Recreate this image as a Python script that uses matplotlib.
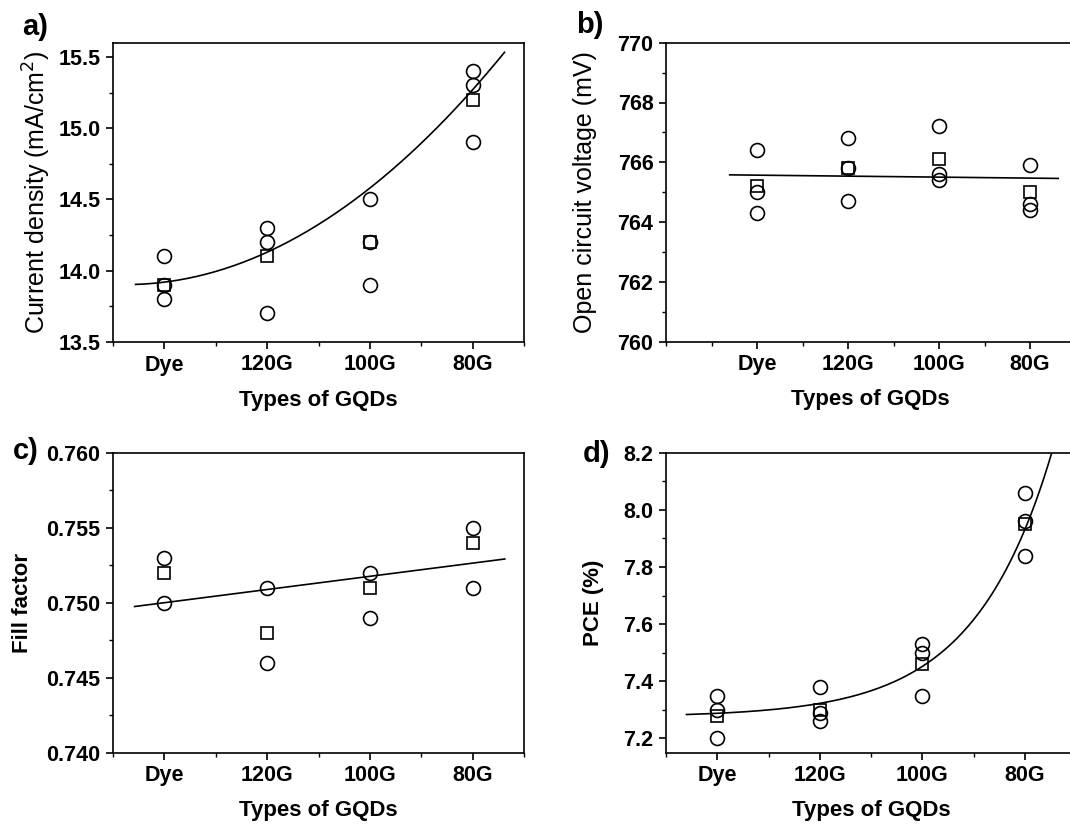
import numpy as np
import matplotlib
matplotlib.use("Agg")
import matplotlib.pyplot as plt
from matplotlib.ticker import MultipleLocator, FormatStrFormatter

plt.rcParams['font.family'] = ['Liberation Sans', 'DejaVu Sans']

categories = ['Dye', '120G', '100G', '80G']

# Panel a: current density (mA/cm2)
jsc_runs = [[14.1, 13.9, 13.8], [14.3, 14.2, 13.7], [14.5, 14.2, 13.9], [15.4, 15.3, 14.9]]
jsc_avg = [13.9, 14.1, 14.2, 15.2]
jsc_fit = [13.92, 0.09, 0.12]          # y = c0 + c1 (x-1) + c2 (x-1)^2

# Panel b: open circuit voltage (mV)
voc_runs = [[766.4, 765.0, 764.3], [766.8, 765.8, 764.7], [767.2, 765.6, 765.4], [765.9, 764.6, 764.4]]
voc_avg = [765.2, 765.8, 766.1, 765.0]
voc_fit = [765.57, -0.033]            # y = c0 + c1 (x-1)

# Panel c: fill factor
ff_runs = [[0.753, 0.750], [0.751, 0.746], [0.752, 0.749], [0.755, 0.751]]
ff_avg = [0.752, 0.748, 0.751, 0.754]
ff_fit = [0.7500, 0.00088]            # y = c0 + c1 (x-1)

# Panel d: PCE (%)
pce_runs = [[7.35, 7.30, 7.20], [7.38, 7.29, 7.26], [7.53, 7.50, 7.35], [8.06, 7.96, 7.84]]
pce_avg = [7.28, 7.30, 7.46, 7.95]
pce_fit = [7.275, 0.655, 1.31]        # y = y0 + A exp(k (x-4))

W, H = 1070, 825
fig = plt.figure(figsize=(W / 100, H / 100), dpi=100)

def frac(l, r, t, b):
    return [l / W, 1 - b / H, (r - l) / W, (b - t) / H]

ax_a = fig.add_axes(frac(113, 524, 43, 342))
ax_b = fig.add_axes(frac(666, 1075.5, 42.7, 341.7))
ax_c = fig.add_axes(frac(113, 524.3, 452.7, 752.7))
ax_d = fig.add_axes(frac(666, 1076, 452.7, 752.7))

xpos = np.arange(1, len(categories) + 1)

def draw(ax, runs, avg, fx, fy, xlim, ylim, ymaj, ymin, fmt, ylabel, ybold, ylx, xlx):
    for i, vals in enumerate(runs):
        ax.plot([xpos[i]] * len(vals), vals, linestyle='none', marker='o', ms=10,
                mfc='none', mec='black', mew=1.2, zorder=3)
    ax.plot(xpos, avg, linestyle='none', marker='s', ms=9, mfc='none', mec='black',
            mew=1.2, zorder=3)
    ax.plot(fx, fy, color='black', lw=1.2, zorder=2)
    ax.set_xlim(*xlim)
    ax.set_ylim(*ylim)
    ax.set_xticks(xpos)
    ax.set_xticklabels(categories)
    ax.xaxis.set_minor_locator(MultipleLocator(0.5))
    ax.yaxis.set_major_locator(MultipleLocator(ymaj))
    ax.yaxis.set_minor_locator(MultipleLocator(ymin))
    ax.yaxis.set_major_formatter(FormatStrFormatter(fmt))
    for s in ax.spines.values():
        s.set_linewidth(1.2)
    ax.tick_params(which='major', direction='out', length=5, width=1.2, labelsize=15.5, pad=4)
    ax.tick_params(which='minor', direction='out', length=3, width=1.0)
    for lab in ax.get_xticklabels() + ax.get_yticklabels():
        lab.set_fontweight('bold')
    ax.set_xlabel('Types of GQDs', fontsize=16, fontweight='bold')
    ax.xaxis.label.set_va('center')
    ax.xaxis.set_label_coords(xlx, -0.194)
    ax.set_ylabel(ylabel, fontsize=16 if ybold else 18, fontweight='bold' if ybold else 'normal')
    ax.yaxis.label.set_va('center')
    ax.yaxis.set_label_coords(ylx, 0.5)

xa = np.linspace(0.72, 4.31, 200)
ya = jsc_fit[0] + jsc_fit[1] * (xa - 1) + jsc_fit[2] * (xa - 1) ** 2
draw(ax_a, jsc_runs, jsc_avg, xa, ya, (0.5, 4.5), (13.5, 15.598), 0.5, 0.25, '%.1f',
     'Current density (mA/cm$^2$)', False, -0.184, 0.5)

xb = np.linspace(0.7, 4.31, 50)
yb = voc_fit[0] + voc_fit[1] * (xb - 1)
draw(ax_b, voc_runs, voc_avg, xb, yb, (0, 4.5), (760, 770), 2, 1, '%.0f',
     'Open circuit voltage (mV)', False, -0.198, 0.5)

xc = np.linspace(0.71, 4.31, 50)
yc = ff_fit[0] + ff_fit[1] * (xc - 1)
draw(ax_c, ff_runs, ff_avg, xc, yc, (0.5, 4.5), (0.740, 0.760), 0.005, 0.0025, '%.3f',
     'Fill factor', True, -0.220, 0.5)

xd = np.linspace(0.7, 4.35, 200)
yd = pce_fit[0] + pce_fit[1] * np.exp(pce_fit[2] * (xd - 4))
draw(ax_d, pce_runs, pce_avg, xd, yd, (0.5, 4.5), (7.15, 8.2), 0.2, 0.1, '%.1f',
     'PCE (%)', True, -0.178, 0.5)

for lbl, x, y in [('a)', 22, 27), ('b)', 576, 25), ('c)', 13, 451), ('d)', 583, 454)]:
    fig.text(x / W, 1 - y / H, lbl, fontsize=21, fontweight='bold', ha='left', va='center')

fig.savefig('out.png', dpi=100)
